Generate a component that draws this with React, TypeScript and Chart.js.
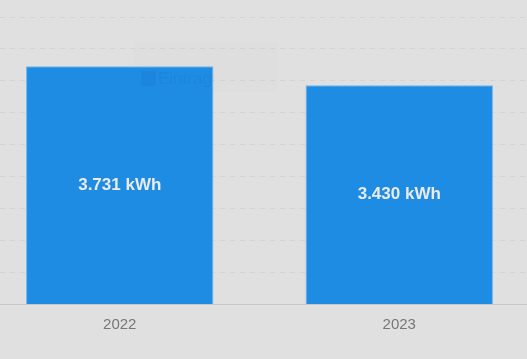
import React, { useEffect, useRef } from "react";
import { Chart, registerables } from "chart.js";

Chart.register(...registerables);

const categories = ["2022", "2023"];
const values = [3.731, 3.43];
const valueLabels = ["3.731 kWh", "3.430 kWh"];
const seriesName = "Eintragungen";
const yMax = 4.5;
const yStep = 0.5;

const BAR = "#1e8ce3";
const BG = "#e0e0e0";

const valueLabelPlugin = {
  id: "valueLabels",
  afterDatasetsDraw(chart: any) {
    const ctx = chart.ctx;
    const meta = chart.getDatasetMeta(0);
    ctx.save();
    ctx.font = "bold 17px 'Liberation Sans', Arial, sans-serif";
    ctx.fillStyle = "#ebebeb";
    ctx.textAlign = "center";
    ctx.textBaseline = "middle";
    meta.data.forEach((el: any, i: number) => {
      const mid = (el.y + el.base) / 2;
      ctx.fillText(valueLabels[i], el.x, mid);
    });
    ctx.restore();
  },
};

const legendBox = (area: any) => ({ x: area.left + 154, y: 42, w: 144, h: 50 });

const ghostLegendPlugin = {
  id: "ghostLegend",
  beforeDatasetsDraw(chart: any) {
    const ctx = chart.ctx;
    const b = legendBox(chart.chartArea);
    ctx.save();
    ctx.fillStyle = "rgba(0,0,0,0.006)";
    ctx.fillRect(b.x, b.y, b.w, b.h);
    ctx.restore();
  },
  afterDatasetsDraw(chart: any) {
    const ctx = chart.ctx;
    const b = legendBox(chart.chartArea);
    const el: any = chart.getDatasetMeta(0).data[0];
    ctx.save();
    const left = el.x - el.width / 2;
    const right = el.x + el.width / 2;
    ctx.beginPath();
    ctx.rect(left, el.y, right - left, el.base - el.y);
    ctx.clip();
    ctx.fillStyle = "rgba(0,40,90,0.05)";
    ctx.fillRect(b.x + 7, b.y + 29, 15, 15);
    ctx.font = "17px 'Liberation Sans', Arial, sans-serif";
    ctx.textBaseline = "middle";
    ctx.fillText(seriesName, b.x + 24, b.y + 37);
    ctx.restore();
  },
};

export default function App() {
  const ref = useRef<HTMLCanvasElement | null>(null);
  useEffect(() => {
    if (!ref.current) return;
    const chart = new Chart(ref.current, {
      type: "bar",
      data: {
        labels: categories,
        datasets: [
          {
            label: seriesName,
            data: values,
            backgroundColor: BAR,
            borderColor: "#6db4ef",
            borderWidth: { top: 1, left: 1, right: 1, bottom: 0 },
            borderSkipped: "bottom",
            barPercentage: 0.9,
            categoryPercentage: 0.745,
          },
        ],
      },
      options: {
        animation: false,
        responsive: false,
        maintainAspectRatio: false,
        layout: { padding: { top: 17, bottom: 14.5, left: 0, right: 0 } },
        plugins: {
          legend: { display: false },
          tooltip: { enabled: false },
        },
        scales: {
          x: {
            grid: { display: false, drawTicks: false },
            border: { display: true, color: "#c8c8c8", width: 1 },
            ticks: {
              color: "#777777",
              padding: 11,
              font: { size: 15, family: "'Liberation Sans', Arial, sans-serif" },
            },
          },
          y: {
            min: 0,
            max: yMax,
            ticks: { display: false, stepSize: yStep },
            grid: { color: "#d4d4d4", drawTicks: false, tickLength: 0 },
            border: { display: false, dash: [5, 5] },
          },
        },
      },
      plugins: [ghostLegendPlugin, valueLabelPlugin],
    });
    return () => chart.destroy();
  }, []);
  return (
    <div
      style={{
        position: "fixed",
        left: 0,
        top: 0,
        width: 527,
        height: 359,
        background: BG,
        overflow: "hidden",
      }}
    >
      <canvas
        ref={ref}
        width={559}
        height={359}
        style={{ position: "absolute", left: -20.5, top: 0, width: 559, height: 359 }}
      />
    </div>
  );
}
